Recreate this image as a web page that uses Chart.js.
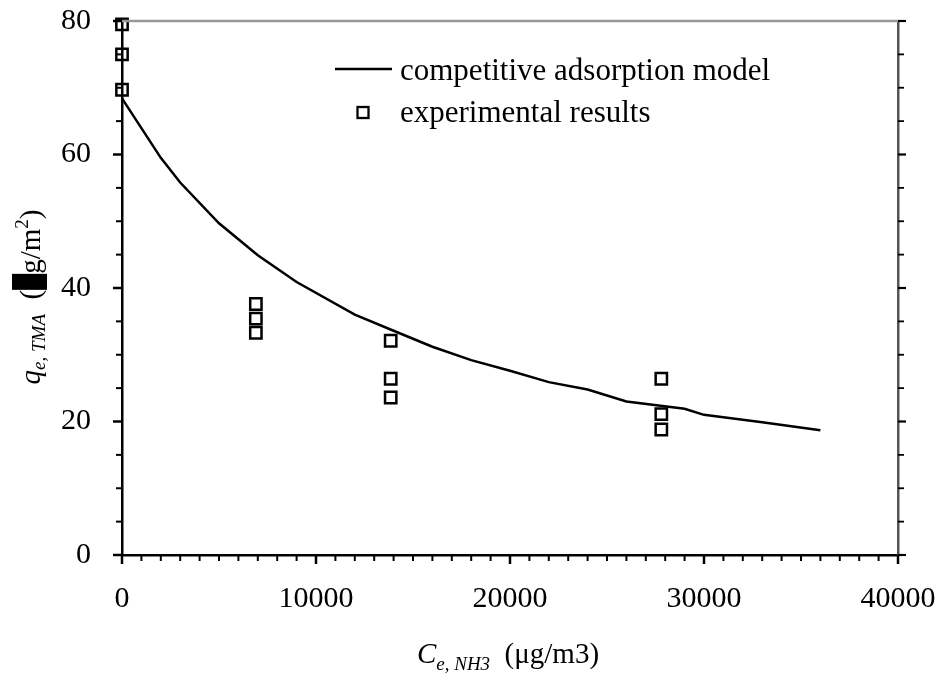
<!DOCTYPE html>
<html><head><meta charset="utf-8">
<script src="https://cdn.jsdelivr.net/npm/chart.js@4"></script>
<style>html,body{margin:0;padding:0;background:#fff;} #wrap{width:942px;height:685px;position:relative;}</style>
</head><body><div id="wrap"><canvas id="c"></canvas></div>
<script>
// ---- data ----
const modelX = [0, 2000, 3000, 5000, 7000, 9000, 12000, 14000, 16000, 18000, 20000, 22000, 24000, 26000, 29000, 30000, 33000, 36000];
const modelY = [68.4, 59.5, 55.8, 49.7, 44.9, 40.9, 36.0, 33.6, 31.2, 29.2, 27.6, 25.9, 24.8, 23.0, 21.9, 21.0, 19.9, 18.7];
const expX = [0, 0, 0, 6900, 6900, 6900, 13850, 13850, 13850, 27800, 27800, 27800];
const expY = [79.5, 75.0, 69.7, 37.6, 35.4, 33.3, 32.1, 26.4, 23.6, 26.4, 21.1, 18.8];
const xTickLabels = ['0', '10000', '20000', '30000', '40000'];
const yTickLabels = ['0', '20', '40', '60', '80'];
const seriesLabels = ['competitive adsorption model', 'experimental results'];

const FONT = '"Liberation Serif","Times New Roman",serif';

function drawRich(ctx, segs) {
  let x = 0;
  segs.forEach(s => {
    if (s.box) { ctx.fillRect(x, s.y0, s.w, s.h); x += s.w; return; }
    ctx.font = s.font;
    ctx.fillText(s.text, x, s.dy || 0);
    x += ctx.measureText(s.text).width;
  });
  return x;
}
function measureRich(ctx, segs) {
  let x = 0;
  segs.forEach(s => {
    if (s.box) { x += s.w; return; }
    ctx.font = s.font; x += ctx.measureText(s.text).width;
  });
  return x;
}

const decorPlugin = {
  id: 'decor',
  afterDraw(chart) {
    const ctx = chart.ctx;
    const xs = chart.scales.x, ys = chart.scales.y, y2 = chart.scales.y2;
    const ca = chart.chartArea;
    ctx.save();
    // top border (grey)
    ctx.strokeStyle = '#999';
    ctx.lineWidth = 2.5;
    ctx.beginPath(); ctx.moveTo(ca.left, ca.top); ctx.lineTo(ca.right, ca.top); ctx.stroke();
    // ticks
    ctx.strokeStyle = '#000';
    xs.ticks.forEach(t => {
      const major = xTickLabels.includes(String(t.value));
      const px = xs.getPixelForValue(t.value);
      ctx.lineWidth = major ? 2.5 : 2;
      ctx.beginPath(); ctx.moveTo(px, ca.bottom); ctx.lineTo(px, ca.bottom + (major ? 9 : 6)); ctx.stroke();
    });
    ys.ticks.forEach(t => {
      const major = yTickLabels.includes(String(t.value));
      const py = ys.getPixelForValue(t.value);
      ctx.lineWidth = major ? 2.5 : 2;
      ctx.beginPath(); ctx.moveTo(ca.left, py); ctx.lineTo(ca.left - (major ? 9 : 6), py); ctx.stroke();
    });
    y2.ticks.forEach(t => {
      const major = yTickLabels.includes(String(t.value));
      const py = y2.getPixelForValue(t.value);
      ctx.lineWidth = major ? 2.2 : 1.8;
      ctx.beginPath(); ctx.moveTo(ca.right, py); ctx.lineTo(ca.right + (major ? 8 : 6), py); ctx.stroke();
    });
    // legend
    ctx.fillStyle = '#000';
    ctx.lineWidth = 2.5;
    ctx.beginPath(); ctx.moveTo(335, 69); ctx.lineTo(392, 69); ctx.stroke();
    ctx.lineWidth = 2.3;
    ctx.strokeRect(357.5, 107, 11, 11);
    ctx.font = '31px ' + FONT;
    ctx.textBaseline = 'alphabetic';
    ctx.textAlign = 'left';
    ctx.fillText(chart.data.datasets[0].label, 400, 80);
    ctx.fillText(chart.data.datasets[1].label, 400, 122);
    // x title
    const xSegs = [
      { text: 'C', font: 'italic 29px ' + FONT },
      { text: 'e, NH3', font: 'italic 19px ' + FONT, dy: 7 },
      { text: '  (\u03bcg/m3)', font: '29px ' + FONT }
    ];
    const xw = measureRich(ctx, xSegs);
    ctx.save(); ctx.translate(508 - xw / 2, 663); drawRich(ctx, xSegs); ctx.restore();
    // y title
    const ySegs = [
      { text: 'q', font: 'italic 29px ' + FONT },
      { text: 'e, TMA', font: 'italic 19px ' + FONT, dy: 5 },
      { text: '  (', font: '29px ' + FONT },
      { box: true, w: 16, y0: -28, h: 35 },
      { text: 'g/m', font: '29px ' + FONT },
      { text: '2', font: '19px ' + FONT, dy: -12 },
      { text: ')', font: '29px ' + FONT }
    ];
    const yw = measureRich(ctx, ySegs);
    ctx.save(); ctx.translate(40, 297); ctx.rotate(-Math.PI / 2); ctx.translate(-yw / 2, 0); drawRich(ctx, ySegs); ctx.restore();
    ctx.restore();
  }
};

function noPad(s) { s.paddingLeft = 0; s.paddingRight = 0; s.paddingTop = 0; s.paddingBottom = 0; }

new Chart(document.getElementById('c'), {
  type: 'scatter',
  data: {
    datasets: [
      { label: seriesLabels[0], data: modelX.map((x, i) => ({ x: x, y: modelY[i] })), showLine: true,
        borderColor: '#000', borderWidth: 2.5, pointRadius: 0, fill: false, tension: 0, clip: false, order: 2 },
      { label: seriesLabels[1], data: expX.map((x, i) => ({ x: x, y: expY[i] })), showLine: false,
        pointStyle: 'rect', pointRadius: 8, pointBorderWidth: 2.5, borderColor: '#000', borderWidth: 2.5,
        backgroundColor: 'rgba(0,0,0,0)', clip: false, order: 1 }
    ]
  },
  options: {
    responsive: true, maintainAspectRatio: false, animation: false,
    layout: { padding: { top: 21, right: 0, left: 0, bottom: 0 } },
    plugins: { legend: { display: false }, tooltip: { enabled: false }, title: { display: false } },
    scales: {
      x: {
        type: 'linear', position: 'bottom', min: 0, max: 40000,
        ticks: { stepSize: 1000, autoSkip: false, maxRotation: 0, minRotation: 0, padding: 18, color: '#000',
          font: { family: FONT, size: 30 },
          callback: v => xTickLabels.includes(String(v)) ? String(v) : '' },
        grid: { display: false },
        border: { display: true, color: '#000', width: 2.5 },
        afterFit: s => { s.height = 130; noPad(s); }
      },
      y: {
        type: 'linear', position: 'left', min: 0, max: 80,
        ticks: { stepSize: 5, autoSkip: false, padding: 23, color: '#000',
          font: { family: FONT, size: 30 },
          callback: v => yTickLabels.includes(String(v)) ? String(v) : '' },
        grid: { display: false },
        border: { display: true, color: '#000', width: 2.5 },
        afterFit: s => { s.width = 122; noPad(s); }
      },
      y2: {
        type: 'linear', position: 'right', min: 0, max: 80,
        ticks: { stepSize: 5, display: false, autoSkip: false },
        grid: { display: false },
        border: { display: true, color: '#555', width: 2.5 },
        afterFit: s => { s.width = 44; noPad(s); }
      }
    }
  },
  plugins: [decorPlugin]
});
</script>
</body></html>
